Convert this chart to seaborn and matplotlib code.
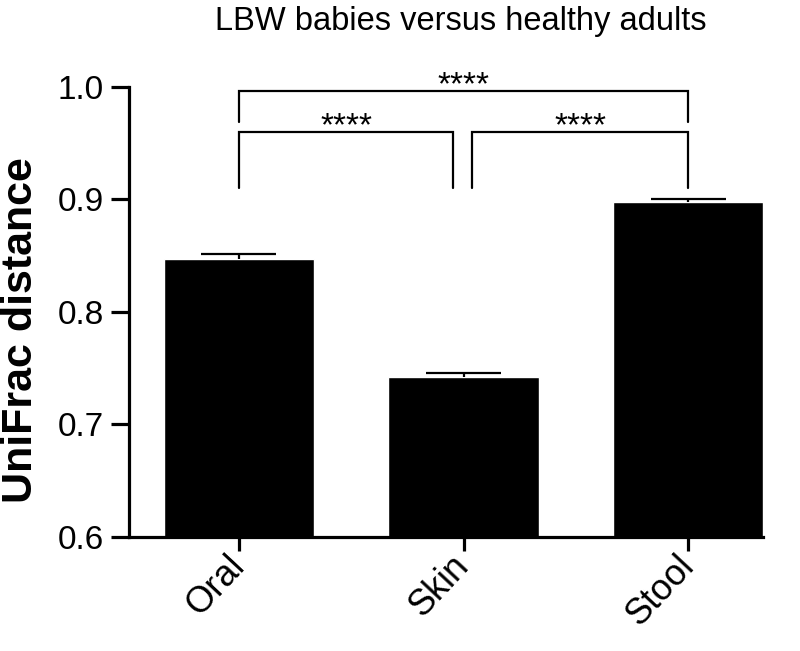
#import libraries
import seaborn as sns
import pandas as pd
import matplotlib.pyplot as plt

#data
sites = ["Oral", "Skin", "Stool"]
means = [0.847, 0.742, 0.898]
sems = [0.0044, 0.0036, 0.0024]

#significance brackets: left group, right group, label
pair_left = [0, 1, 0]
pair_right = [1, 2, 2]
pair_labels = ["****", "****", "****"]

#implementations
sns.set_theme(style='white')
plt.rcParams['font.family'] = ['Liberation Sans', 'DejaVu Sans']
plt.rcParams['text.color'] = 'black'
plt.rcParams['axes.labelcolor'] = 'black'

df = pd.DataFrame({"site": sites, "mean": means, "sem": sems})
df["top"] = df["mean"] + df["sem"]

fig = plt.figure(figsize=(8, 6.51), dpi=100)
ax = fig.add_axes([0.161, 0.1751, 0.793, 0.6917])

sns.barplot(data=df, x="site", y="mean", color="black", saturation=1,
            width=0.668, errorbar=None, ax=ax)

#one-sided error bars
xs = list(range(len(sites)))
ax.vlines(xs, df["mean"], df["top"], color='black', linewidth=1.6)
ax.hlines(df["top"], [x - 0.167 for x in xs], [x + 0.167 for x in xs],
          color='black', linewidth=1.6)

#axes settings
ax.set_xlim(-0.49, 2.334)
ax.set_ylim(0.6, 1.0)
ax.set_yticks([0.6, 0.7, 0.8, 0.9, 1.0])
ax.set_yticklabels(["0.6", "0.7", "0.8", "0.9", "1.0"])
ax.set_xticks(xs)
ax.set_xticklabels(sites, rotation=47, ha='right', va='center',
                   rotation_mode='anchor')
sns.despine(ax=ax)
for side in ["left", "bottom"]:
    ax.spines[side].set_linewidth(2.3)
    ax.spines[side].set_color("black")
ax.tick_params(axis='y', left=True, length=13, width=2.3, color='black',
               labelsize=24, pad=5, labelcolor='black')
ax.tick_params(axis='x', bottom=True, length=10, width=2.3, color='black',
               labelsize=26, pad=7, labelcolor='black')

ax.set_xlabel('')
ax.set_ylabel('UniFrac distance', fontsize=31, fontweight='bold', va='baseline',
              color='black')
ax.yaxis.set_label_coords(-0.153, 0.46)

#brackets: (line top, leg bottom, star baseline, left inset, right inset)
levels = {(0, 1): (0.960, 0.910, 0.9568, 0.0, 0.045),
          (1, 2): (0.960, 0.910, 0.9568, 0.039, 0.0),
          (0, 2): (0.9964, 0.9686, 0.9935, 0.0, 0.0)}
for a, b, lab in zip(pair_left, pair_right, pair_labels):
    top, bottom, text_y, da, db = levels[(a, b)]
    xa, xb = a + da, b - db
    ax.plot([xa, xa, xb, xb], [bottom, top, top, bottom], color='black',
            linewidth=1.6, clip_on=False, solid_joinstyle='miter')
    ax.text((xa + xb) / 2, text_y, lab, ha='center', va='baseline', fontsize=24,
            color='black')

fig.text(461 / 800, 1 - 30 / 651, 'LBW babies versus healthy adults',
         ha='center', va='baseline', fontsize=23.5, color='black')

#save
fig.savefig('out.png', dpi=100)
